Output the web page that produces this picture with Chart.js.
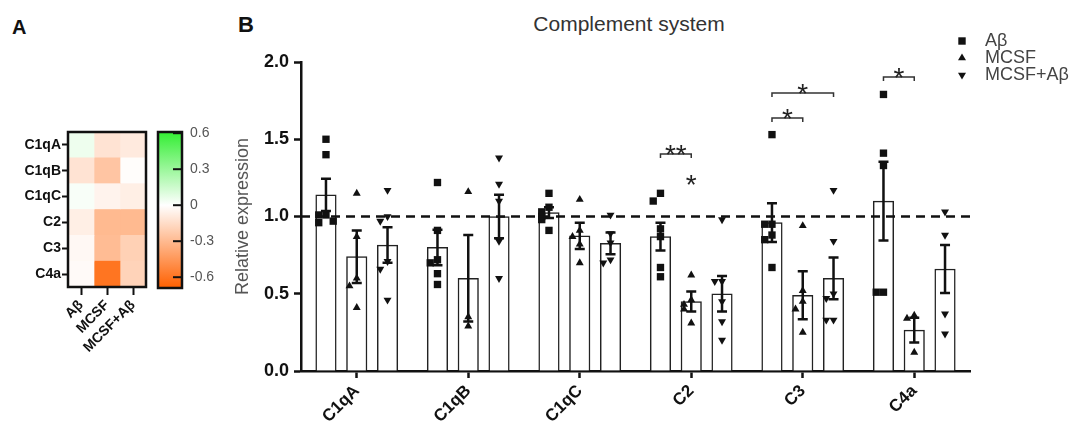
<!DOCTYPE html>
<html>
<head>
<meta charset="utf-8">
<script src="https://cdn.jsdelivr.net/npm/chart.js@4.4.0/dist/chart.umd.min.js"></script>
<style>
  html, body { margin: 0; padding: 0; background: #fff; }
  #wrap { position: relative; width: 1076px; height: 430px; overflow: hidden;
          font-family: "Liberation Sans", Arial, sans-serif; }
  canvas { position: absolute; top: 0; }
  .panel { position: absolute; font-weight: bold; color: #111; line-height: 1; }
  #title { position: absolute; left: 629px; top: 13px; transform: translateX(-50%);
           font-size: 21px; line-height: 1; color: #333; white-space: nowrap; }
</style>
</head>
<body>
<div id="wrap">
  <div class="panel" style="left:12px; top:17px; font-size:20px;">A</div>
  <div class="panel" style="left:238px; top:14px; font-size:22px;">B</div>
  <div id="title">Complement system</div>
  <canvas id="heat" width="152" height="380" style="left:0"></canvas>
  <canvas id="scale" width="76" height="330" style="left:150px"></canvas>
  <canvas id="bars" width="851" height="430" style="left:225px"></canvas>
</div>
<script>
const FONT = '"Liberation Sans", Arial, sans-serif';
Chart.defaults.font.family = FONT;

const rows = ['C1qA', 'C1qB', 'C1qC', 'C2', 'C3', 'C4a'];
const groups = ['Aβ', 'MCSF', 'MCSF+Aβ'];

// panel A - heat map values
const heatAb     = [0.05, -0.12, 0.02, -0.07, -0.03, -0.02];
const heatMcsf   = [-0.12, -0.25, -0.05, -0.30, -0.29, -0.60];
const heatMcsfAb = [-0.09, -0.01, -0.07, -0.30, -0.20, -0.19];
const heatMin = -0.69, heatMax = 0.61;
const heatTicks = [-0.6, -0.3, 0, 0.3, 0.6];

// panel B - bar means and SEM
const meanAb     = [1.14, 0.80, 1.025, 0.87, 0.96, 1.10];
const semAb      = [0.105, 0.115, 0.035, 0.09, 0.125, 0.255];
const meanMcsf   = [0.74, 0.60, 0.875, 0.45, 0.49, 0.265];
const semMcsf    = [0.17, 0.28, 0.085, 0.065, 0.155, 0.08];
const meanMcsfAb = [0.815, 1.00, 0.826, 0.50, 0.60, 0.66];
const semMcsfAb  = [0.115, 0.14, 0.07, 0.115, 0.135, 0.155];

// panel B - individual replicates
const ptsAb = [
  [1.50, 1.40, 1.01, 1.01, 0.97, 0.96],
  [1.22, 0.91, 0.72, 0.70, 0.63, 0.56],
  [1.15, 1.06, 1.03, 1.00, 0.98, 0.91],
  [1.15, 1.10, 0.92, 0.87, 0.67, 0.61],
  [1.53, 0.95, 0.95, 0.88, 0.85, 0.67],
  [1.79, 1.41, 1.33, 0.51, 0.51]
];
const ptsMcsf = [
  [1.15, 0.87, 0.60, 0.55, 0.41],
  [1.16, 0.35, 0.29],
  [1.11, 0.91, 0.87, 0.82, 0.70],
  [0.62, 0.46, 0.43, 0.40, 0.31],
  [0.94, 0.52, 0.45, 0.40, 0.25],
  [0.36, 0.34, 0.12]
];
const ptsMcsfAb = [
  [1.17, 1.00, 0.97, 0.71, 0.66, 0.46],
  [1.38, 1.21, 1.10, 0.84, 0.60],
  [1.01, 0.89, 0.83, 0.72, 0.70],
  [0.98, 0.58, 0.58, 0.45, 0.32, 0.20],
  [1.17, 0.84, 0.50, 0.47, 0.33, 0.33],
  [1.03, 0.88, 0.37, 0.24]
];

// significance: category, from group, to group, height, label
const sigMarks = [
  { cat: 3, from: 0, to: 1, y: 1.405, text: '**' },
  { cat: 3, from: 1, to: 1, y: 1.21, text: '*' },
  { cat: 4, from: 0, to: 1, y: 1.638, text: '*' },
  { cat: 4, from: 0, to: 2, y: 1.80, text: '*' },
  { cat: 5, from: 0, to: 1, y: 1.903, text: '*' }
];

function heatColor(v) {
  const t = v >= 0 ? Math.min(v / heatMax, 1) : Math.min(v / heatMin, 1);
  const end = v >= 0 ? [51, 238, 51] : [255, 96, 0];
  const c = end.map(e => Math.round(255 + (e - 255) * t));
  return 'rgb(' + c.join(',') + ')';
}

const boxPlugin = {
  id: 'box',
  afterDatasetsDraw(chart, args, opts) {
    const a = chart.chartArea, ctx = chart.ctx;
    ctx.save();
    ctx.strokeStyle = '#111';
    ctx.lineWidth = 2.5;
    ctx.strokeRect(a.left, a.top, a.right - a.left, a.bottom - a.top);
    if (opts.innerTicks) {
      ctx.lineWidth = 2;
      chart.scales.y.ticks.forEach(t => {
        const py = chart.scales.y.getPixelForValue(t.value);
        ctx.beginPath();
        ctx.moveTo(a.right - 9, py);
        ctx.lineTo(a.right, py);
        ctx.stroke();
      });
    }
    ctx.restore();
  }
};

// ---- panel A heat map
new Chart(document.getElementById('heat'), {
  type: 'bar',
  data: {
    labels: rows,
    datasets: [heatAb, heatMcsf, heatMcsfAb].map((vals, k) => ({
      label: groups[k],
      data: rows.map(() => 1),
      backgroundColor: vals.map(heatColor),
      borderWidth: 0,
      barPercentage: 1,
      categoryPercentage: 1
    }))
  },
  options: {
    indexAxis: 'y',
    responsive: false,
    animation: false,
    layout: { padding: { top: 132, right: 6, bottom: 0, left: 0 } },
    plugins: { legend: { display: false }, tooltip: { enabled: false }, box: {} },
    scales: {
      x: {
        type: 'linear', stacked: true, min: 0, max: 3, offset: false,
        afterBuildTicks: s => { s.ticks = [0.5, 1.5, 2.5].map(v => ({ value: v })); },
        afterFit: s => { s.height = 93; },
        ticks: {
          autoSkip: false, minRotation: 45, maxRotation: 45, padding: 2, color: '#111',
          font: { size: 14, weight: 'bold' },
          callback: v => groups[Math.round(v - 0.5)]
        },
        grid: { offset: false, drawOnChartArea: false, tickLength: 8, tickWidth: 2, tickColor: '#111' },
        border: { display: false }
      },
      y: {
        stacked: true,
        afterFit: s => { s.width = 68; },
        ticks: { padding: 1, color: '#111', font: { size: 14, weight: 'bold' } },
        grid: { offset: false, drawOnChartArea: false, tickLength: 6, tickWidth: 2, tickColor: '#111' },
        border: { display: false }
      }
    }
  },
  plugins: [boxPlugin]
});

// ---- panel A colour scale
new Chart(document.getElementById('scale'), {
  type: 'bar',
  data: {
    labels: [''],
    datasets: [{
      data: [[heatMin, heatMax]],
      barPercentage: 1,
      categoryPercentage: 1,
      borderWidth: 0,
      backgroundColor: c => {
        const chart = c.chart;
        if (!chart.chartArea) return '#fff';
        const y = chart.scales.y;
        const g = chart.ctx.createLinearGradient(0, y.getPixelForValue(heatMax), 0, y.getPixelForValue(heatMin));
        g.addColorStop(0, heatColor(heatMax));
        g.addColorStop(heatMax / (heatMax - heatMin), '#fff');
        g.addColorStop(1, heatColor(heatMin));
        return g;
      }
    }]
  },
  options: {
    responsive: false,
    animation: false,
    layout: { padding: { top: 132, right: 0, bottom: 42, left: 8 } },
    plugins: { legend: { display: false }, tooltip: { enabled: false }, box: { innerTicks: true } },
    scales: {
      x: { display: false },
      y: {
        position: 'right', min: heatMin, max: heatMax,
        afterBuildTicks: s => { s.ticks = heatTicks.map(v => ({ value: v })); },
        afterFit: s => { s.width = 44; },
        ticks: { padding: 8, color: '#555', font: { size: 14 }, callback: v => (v === 0 ? '0' : v.toFixed(1)) },
        grid: { display: false, drawTicks: false },
        border: { display: false }
      }
    }
  },
  plugins: [boxPlugin]
});

// ---- panel B
const barSets = [meanAb, meanMcsf, meanMcsfAb];
const semSets = [semAb, semMcsf, semMcsfAb];
const ptSets = [ptsAb, ptsMcsf, ptsMcsfAb];
const groupShift = [-0.276, 0, 0.276];
const marker = [
  { style: 'rect', r: 5.2, rot: 0 },
  { style: 'triangle', r: 4.6, rot: 0 },
  { style: 'triangle', r: 4.6, rot: 180 }
];
const jitterSteps = [0, -1, 1, -0.5, 0.5, -1.5, 1.5];

// spread overlapping replicates sideways, like the GraphPad scatter
function spread(vals, cat, shift) {
  return vals.map((v, j) => {
    const k = vals.slice(0, j).filter(u => Math.abs(u - v) < 0.05).length;
    return { x: cat + shift + jitterSteps[k % jitterSteps.length] * 0.065, y: v };
  });
}

const errorPlugin = {
  id: 'errors',
  afterDatasetsDraw(chart) {
    const ctx = chart.ctx, y = chart.scales.y, a = chart.chartArea;
    ctx.save();
    ctx.strokeStyle = '#111';
    ctx.lineWidth = 2.5;
    ctx.setLineDash([9, 6]);
    const y1 = y.getPixelForValue(1);
    ctx.beginPath();
    ctx.moveTo(a.left, y1);
    ctx.lineTo(a.right, y1);
    ctx.stroke();
    ctx.setLineDash([]);
    semSets.forEach((sem, d) => {
      chart.getDatasetMeta(d).data.forEach((bar, i) => {
        const m = barSets[d][i];
        const top = y.getPixelForValue(m + sem[i]);
        const bot = y.getPixelForValue(m - sem[i]);
        ctx.beginPath();
        ctx.moveTo(bar.x, top); ctx.lineTo(bar.x, bot);
        ctx.moveTo(bar.x - 5, top); ctx.lineTo(bar.x + 5, top);
        ctx.moveTo(bar.x - 5, bot); ctx.lineTo(bar.x + 5, bot);
        ctx.stroke();
      });
    });
    ctx.restore();
  }
};

const sigPlugin = {
  id: 'sig',
  afterDraw(chart) {
    const ctx = chart.ctx, y = chart.scales.y;
    ctx.save();
    ctx.strokeStyle = '#333';
    ctx.fillStyle = '#222';
    ctx.lineWidth = 1.5;
    ctx.font = '28px ' + FONT;
    ctx.textAlign = 'center';
    ctx.textBaseline = 'alphabetic';
    sigMarks.forEach(s => {
      const x1 = chart.getDatasetMeta(s.from).data[s.cat].x;
      const x2 = chart.getDatasetMeta(s.to).data[s.cat].x;
      const py = y.getPixelForValue(s.y);
      if (s.from !== s.to) {
        ctx.beginPath();
        ctx.moveTo(x1, py + 4); ctx.lineTo(x1, py); ctx.lineTo(x2, py); ctx.lineTo(x2, py + 4);
        ctx.stroke();
      }
      ctx.fillText(s.text, (x1 + x2) / 2, py + 10);
    });
    ctx.restore();
  }
};

function drawMarker(ctx, d, x, y) {
  ctx.beginPath();
  if (d === 0) {
    ctx.rect(x - 3.7, y - 3.7, 7.4, 7.4);
  } else {
    const s = d === 1 ? 1 : -1;
    ctx.moveTo(x, y - 4.6 * s);
    ctx.lineTo(x + 4, y + 2.3 * s);
    ctx.lineTo(x - 4, y + 2.3 * s);
    ctx.closePath();
  }
  ctx.fill();
}

const legendPlugin = {
  id: 'sideLegend',
  afterDraw(chart) {
    const ctx = chart.ctx;
    ctx.save();
    ctx.font = '18px ' + FONT;
    ctx.textBaseline = 'middle';
    groups.forEach((g, d) => {
      const y = 41 + d * 17;
      ctx.fillStyle = '#111';
      drawMarker(ctx, d, 737, y);
      ctx.fillStyle = '#444';
      ctx.fillText(g, 760, y);
    });
    ctx.restore();
  }
};

new Chart(document.getElementById('bars'), {
  type: 'scatter',
  data: {
    datasets: [
      ...barSets.map((m, d) => ({
        type: 'bar',
        label: groups[d],
        data: m.map((v, i) => ({ x: i + groupShift[d], y: v })),
        backgroundColor: '#fff',
        borderColor: '#222',
        borderWidth: 1.5,
        grouped: false,
        barThickness: 20.5,
        order: 2
      })),
      ...ptSets.map((p, d) => ({
        type: 'scatter',
        label: groups[d],
        data: p.flatMap((vals, cat) => spread(vals, cat, groupShift[d])),
        pointStyle: marker[d].style,
        pointRadius: marker[d].r,
        pointRotation: marker[d].rot,
        pointBackgroundColor: '#111',
        pointBorderWidth: 0,
        order: 1
      }))
    ]
  },
  options: {
    responsive: false,
    animation: false,
    layout: { padding: { top: 62, right: 106, bottom: 0, left: 0 } },
    plugins: { legend: { display: false }, tooltip: { enabled: false } },
    scales: {
      x: {
        type: 'linear', min: -0.5, max: 5.5, offset: false,
        afterBuildTicks: s => { s.ticks = rows.map((r, i) => ({ value: i })); },
        afterFit: s => { s.height = 59; },
        ticks: { autoSkip: false, minRotation: 45, maxRotation: 45, padding: 3, color: '#111',
                 font: { size: 17, weight: 'bold' }, callback: v => rows[Math.round(v)] },
        grid: { offset: false, drawOnChartArea: false, tickLength: 7, tickWidth: 2.5, tickColor: '#111' },
        border: { color: '#111', width: 2.5 }
      },
      y: {
        min: 0, max: 2,
        afterFit: s => { s.width = 76; },
        ticks: { stepSize: 0.5, padding: 5, color: '#111', font: { size: 18, weight: 'bold' },
                 callback: v => v.toFixed(1) },
        grid: { drawOnChartArea: false, tickLength: 7, tickWidth: 2.5, tickColor: '#111' },
        border: { color: '#111', width: 2.5 },
        title: { display: true, text: 'Relative expression', color: '#555',
                 font: { size: 18 }, padding: { top: 7, bottom: 0 } }
      }
    }
  },
  plugins: [errorPlugin, sigPlugin, legendPlugin]
});
</script>
</body>
</html>
